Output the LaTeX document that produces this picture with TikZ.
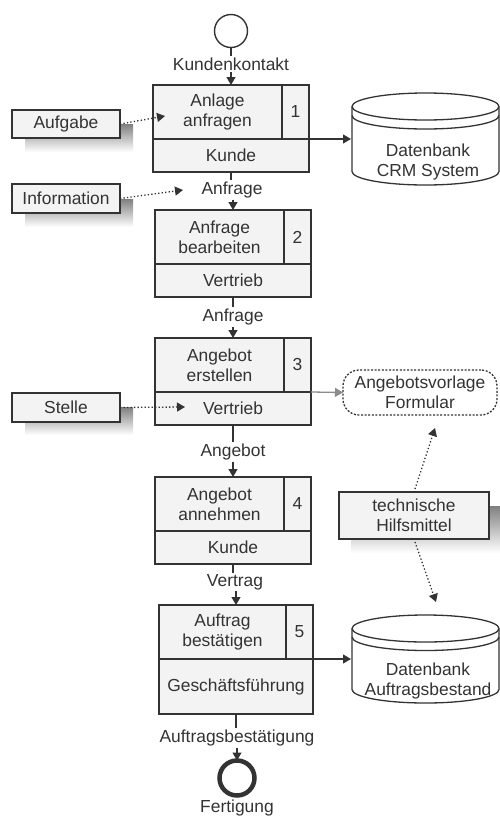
\documentclass[tikz,border=0pt]{standalone}
\usepackage{fontspec}
\setmainfont{Liberation Sans}
\usetikzlibrary{arrows.meta,calc}
\definecolor{ink}{HTML}{333333}
\definecolor{boxfill}{HTML}{F3F3F3}
\definecolor{shade}{HTML}{B4B4B4}
\definecolor{grayarrow}{HTML}{8C8C8C}
\begin{document}
\begin{tikzpicture}[x=1pt,y=-1pt,
  font=\fontsize{17.4}{20}\selectfont, text=ink,
  every node/.style={inner sep=0pt, outer sep=0pt},
  fbox/.style={draw=ink, line width=1.4pt, fill=boxfill},
  sbox/.style={draw=ink, line width=1.4pt, fill=boxfill, align=center},
  txt/.style={align=center},
  lbl/.style={align=center, inner sep=1.5pt},
  flow/.style={draw=ink, line width=1.2pt},
  arr/.style={draw=ink, line width=1.2pt, -{Triangle[length=8pt,width=9pt]}},
  grayarr/.style={draw=grayarrow, line width=1.3pt, -{Triangle[length=8pt,width=9pt]}},
  dotarr/.style={draw=ink, line width=1.3pt, dash pattern=on 1.3pt off 2.2pt, -{Triangle[length=8pt,width=9pt]}},
  inner/.style={draw=ink, line width=1.4pt},
  dbline/.style={draw=ink, line width=1.3pt}
]
\useasboundingbox (0,0) rectangle (499,817);

% ---------- start event ----------
\node[circle, draw=ink, line width=1.4pt, fill=white, minimum size=33pt] (start) at (231,31) {};
\node[lbl] (lk) at (231,64) {Kundenkontakt};

% ---------- function 1 ----------
\node[fbox, minimum width=156pt, minimum height=87pt] (b1) at (231,128.5) {};
\draw[inner] (153,139) -- (309,139) (282,85) -- (282,139);
\node[txt] (t1) at (217.5,112) {Anlage\\anfragen};
\node (n1) at (295.5,112) {1};
\node (o1) at (231,155.5) {Kunde};
\coordinate (b1r) at (309,139);
\coordinate (t1in) at (165,116);

\node[lbl] (l2) at (232,190) {Anfrage};

% ---------- function 2 ----------
\node[fbox, minimum width=156pt, minimum height=87pt] (b2) at (233,253.5) {};
\draw[inner] (155,264) -- (311,264) (284,210) -- (284,264);
\node[txt] (t2) at (219.5,237) {Anfrage\\bearbeiten};
\node (n2) at (297.5,237) {2};
\node (o2) at (233,280.5) {Vertrieb};

\node[lbl] (l3) at (233,317) {Anfrage};

% ---------- function 3 ----------
\node[fbox, minimum width=156pt, minimum height=87pt] (b3) at (233,381.5) {};
\draw[inner] (155,392) -- (311,392) (284,338) -- (284,392);
\node[txt] (t3) at (219.5,365) {Angebot\\erstellen};
\node (n3) at (297.5,365) {3};
\node (o3) at (233,408.5) {Vertrieb};
\coordinate (b3r) at (311,392);
\coordinate (o3in) at (185,407);

\node[lbl] (l4) at (233,452) {Angebot};

% ---------- function 4 ----------
\node[fbox, minimum width=156pt, minimum height=87pt] (b4) at (233,520.5) {};
\draw[inner] (155,531) -- (311,531) (284,477) -- (284,531);
\node[txt] (t4) at (219.5,504) {Angebot\\annehmen};
\node (n4) at (297.5,504) {4};
\node (o4) at (233,547.5) {Kunde};

\node[lbl] (l5) at (235,582) {Vertrag};

% ---------- function 5 ----------
\node[fbox, minimum width=154pt, minimum height=109pt] (b5) at (236,659.5) {};
\draw[inner] (159,659) -- (313,659) (286,605) -- (286,659);
\node[txt] (t5) at (222.5,632) {Auftrag\\bestätigen};
\node (n5) at (299.5,632) {5};
\node (o5) at (236,686.5) {Geschäftsführung};
\coordinate (b5r) at (313,659);

\node[lbl] (l6) at (237,738) {Auftragsbestätigung};

% ---------- end event ----------
\node[circle, draw=ink, line width=4.5pt, fill=white, minimum size=35pt] (end) at (237,778) {};
\node (fert) at (237,808) {Fertigung};

% ---------- main flow ----------
\draw[flow] (start.south) -- (start.south |- lk.north);
\draw[arr] (lk.south -| b1.north) -- (b1.north);
\draw[flow] (b1.south) -- (b1.south |- l2.north);
\draw[arr] (l2.south -| b2.north) -- (b2.north);
\draw[flow] (b2.south) -- (b2.south |- l3.north);
\draw[arr] (l3.south -| b3.north) -- (b3.north);
\draw[flow] (b3.south) -- (b3.south |- l4.north);
\draw[arr] (l4.south -| b4.north) -- (b4.north);
\draw[flow] (b4.south) -- (b4.south |- l5.north);
\draw[arr] (l5.south -| b5.north) -- (b5.north);
\draw[flow] (b5.south) -- (b5.south |- l6.north);
\draw[arr] (l6.south -| end.north) -- (end.north);

% ---------- left side boxes with shadows ----------
\fill[shade] (25,124) rectangle (133,152);
\node[sbox, minimum width=108pt, minimum height=28pt] (aufgabe) at (66,124) {Aufgabe};
\fill[shade] (25,199) rectangle (133,227);
\node[sbox, minimum width=108pt, minimum height=29pt] (info) at (66,198.5) {Information};
\fill[shade] (25,407) rectangle (133,435);
\node[sbox, minimum width=108pt, minimum height=29pt] (stelle) at (66,407.5) {Stelle};

\coordinate (l2in) at (183,190);
\draw[dotarr] (aufgabe.east) -- (t1in);
\draw[dotarr] (info.east) -- (l2in);
\draw[dotarr] (stelle.east) -- (o3in);

% ---------- database CRM ----------
\filldraw[fill=white, dbline] (352,106.5) -- (352,171.5)
   arc[start angle=180, end angle=0, x radius=73.5, y radius=13.5]
   -- (499,106.5)
   arc[start angle=0, end angle=-180, x radius=73.5, y radius=13.5] -- cycle;
\draw[dbline] (352,106.5) arc[start angle=180, end angle=0, x radius=73.5, y radius=13.5];
\draw[dbline] (352,115.5) arc[start angle=180, end angle=0, x radius=73.5, y radius=13.5];
\node[txt] (crm) at (428,162) {Datenbank\\CRM System};
\coordinate (crmL) at (351,139);
\draw[arr] (b1r) -- (crmL);

% ---------- database Auftragsbestand ----------
\filldraw[fill=white, dbline] (352,628.5) -- (352,689.5)
   arc[start angle=180, end angle=0, x radius=73.5, y radius=13.5]
   -- (499,628.5)
   arc[start angle=0, end angle=-180, x radius=73.5, y radius=13.5] -- cycle;
\draw[dbline] (352,628.5) arc[start angle=180, end angle=0, x radius=73.5, y radius=13.5];
\draw[dbline] (352,637) arc[start angle=180, end angle=0, x radius=73.5, y radius=13.5];
\node[txt] (abest) at (428,681) {Datenbank\\Auftragsbestand};
\coordinate (abL) at (351,659);
\draw[arr] (b5r) -- (abL);

% ---------- Angebotsvorlage ----------
\node[draw=ink, line width=1.3pt, dash pattern=on 2pt off 1.6pt, rounded corners=16pt,
      fill=white, minimum width=154pt, minimum height=45pt, align=center] (vorlage) at (420,392.5)
      {Angebotsvorlage\\Formular};
\draw[grayarr] (b3r) -- (vorlage.west);

% ---------- technische Hilfsmittel ----------
\fill[shade] (351,506) rectangle (501,553);
\node[sbox, minimum width=150pt, minimum height=47pt] (tech) at (414,515.5) {technische\\Hilfsmittel};
\coordinate (techtop) at (415,489);
\coordinate (techbot) at (415,542);
\coordinate (vorlin) at (435,428);
\coordinate (abin) at (436,602);
\draw[dotarr] (techtop) -- (vorlin);
\draw[dotarr] (techbot) -- (abin);
\end{tikzpicture}
\end{document}
